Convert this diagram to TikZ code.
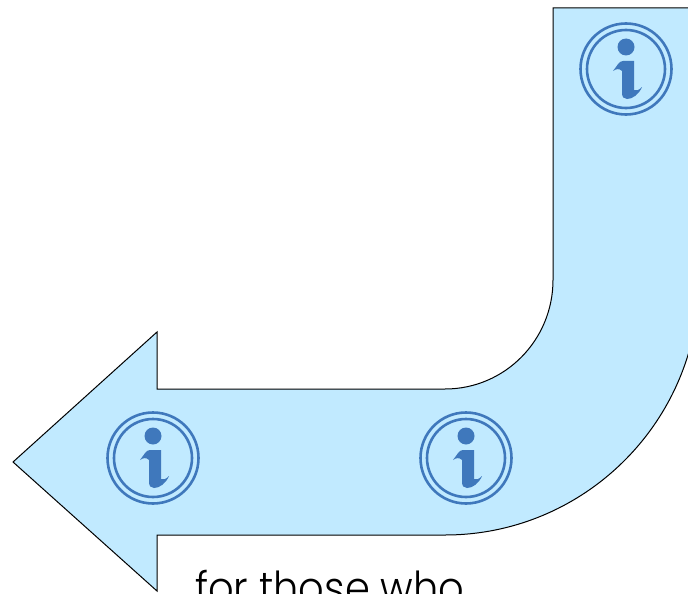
\documentclass[tikz,border=0pt]{standalone}
\usepackage{fontspec}
\newfontfamily\captionfont{Poppins Light}
\definecolor{arrowblue}{HTML}{C1EAFF}
\definecolor{iconblue}{HTML}{3F78BC}
\usetikzlibrary{positioning}

\begin{document}
\begin{tikzpicture}[
    x=1pt, y=-1pt,
    bigarrow/.style={draw=black, fill=arrowblue, line width=1pt, line join=miter},
    ring/.style={circle, draw=iconblue, line width=2.6pt, inner sep=0pt, minimum size=#1},
    iconpart/.style={fill=iconblue, draw=none},
    caption/.style={anchor=base west, inner sep=0pt, xscale=0.91, font=\captionfont\fontsize{44}{44}\selectfont},
    infoicon/.pic={
      \node[ring=91pt] (-outer) at (0,0) {};
      \node[ring=78pt] (-inner) at (0,0) {};
      \fill[iconpart] (0,-22) circle (8.5);
      \fill[iconpart] (-13,2) .. controls (-9,-3) and (-7,-8) .. (-3,-8)
        -- (8,-8) -- (8,21)
        .. controls (11,22) and (13,21) .. (16,18)
        .. controls (13,25) and (7,30) .. (1,30)
        .. controls (-2,30) and (-4,28) .. (-4,24)
        -- (-4,2) .. controls (-7,-1) and (-10,0) .. (-13,2) -- cycle;
    }
  ]
  \useasboundingbox (0,0) rectangle (688,594);
  \clip (0,0) rectangle (688,594);

  % arrow
  \draw[bigarrow] (553,8) -- (553,280)
    .. controls (553,340) and (505,389) .. (445,389)
    -- (157,389) -- (157,332) -- (13,462) -- (157,591) -- (157,535) -- (445,535)
    .. controls (585,535) and (699,421) .. (699,281)
    -- (699,8) -- cycle;

  \pic (icontop) at (626,69) {infoicon};
  \pic (iconmid) at (466,458) {infoicon};
  \pic (iconleft) at (153,458) {infoicon};

  \node[caption] (label) at (195,603) {for those who};
\end{tikzpicture}
\end{document}
